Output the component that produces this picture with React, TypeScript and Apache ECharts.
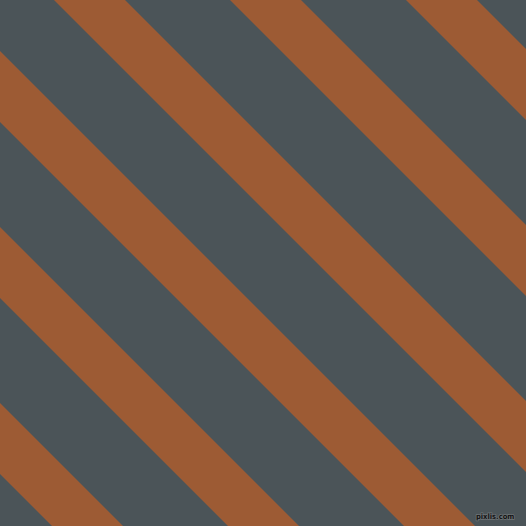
import React, { useEffect, useRef } from "react";
import * as echarts from "echarts";

// stripe offsets along the x axis where each band meets the top edge (x - y = c)
const stripeStarts = [-474, -298, -122, 54, 230, 406];
const stripeEnds = [-403, -227, -51, 125, 301, 477];

const SIZE = 526;
const BG = "#4B5458";
const STRIPE = "#9D5B34";

const App: React.FC = () => {
    const ref = useRef<HTMLDivElement | null>(null);

    useEffect(() => {
        if (!ref.current) return;
        const inst = echarts.init(ref.current, undefined, { renderer: "svg" });

        inst.setOption({
            animation: false,
            backgroundColor: BG,
            grid: { left: 0, right: 0, top: 0, bottom: 0 },
            xAxis: { type: "value", min: 0, max: SIZE, show: false },
            yAxis: { type: "value", min: 0, max: SIZE, inverse: true, show: false },
            graphic: [
                {
                    type: "text",
                    right: 11,
                    bottom: 5,
                    z: 10,
                    style: {
                        text: "pixlis.com",
                        fill: "#151515",
                        stroke: "#6f7477",
                        lineWidth: 1.4,
                        strokeFirst: true,
                        font: "bold 7.5px 'DejaVu Sans Condensed'",
                    },
                },
            ],
            series: [
                {
                    type: "custom",
                    clip: true,
                    data: stripeStarts.map((s, i) => [s, stripeEnds[i]]),
                    renderItem: (_params: any, api: any) => {
                        const a = api.value(0);
                        const b = api.value(1);
                        const pts = [
                            api.coord([a, 0]),
                            api.coord([b, 0]),
                            api.coord([b + SIZE, SIZE]),
                            api.coord([a + SIZE, SIZE]),
                        ];
                        return {
                            type: "polygon",
                            shape: { points: pts },
                            style: { fill: STRIPE },
                        };
                    },
                },
            ],
        });

        return () => inst.dispose();
    }, []);

    return (
        <div
            ref={ref}
            style={{ position: "fixed", left: 0, top: 0, width: SIZE, height: SIZE }}
        />
    );
};

export default App;
